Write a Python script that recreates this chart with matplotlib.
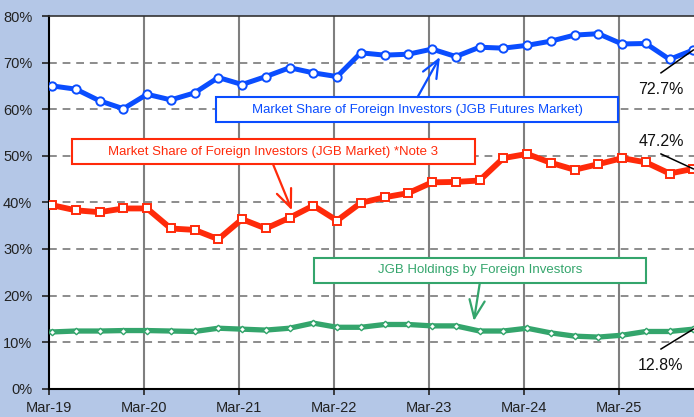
import numpy as np
import matplotlib.pyplot as plt
from matplotlib.patches import Rectangle

plt.rcParams['font.family'] = ['Liberation Sans', 'DejaVu Sans']

# quarterly, Mar-19 .. Dec-25
tick_labels = ['Mar-19', 'Mar-20', 'Mar-21', 'Mar-22', 'Mar-23', 'Mar-24', 'Mar-25']
futures = [65.0, 64.3, 61.8, 60.1, 63.2, 62.0, 63.5, 66.8, 65.3, 67.0, 68.9, 67.8, 67.0, 72.1,
           71.6, 71.8, 72.9, 71.3, 73.3, 73.1, 73.7, 74.6, 75.9, 76.2, 74.0, 74.1, 70.7, 72.7]
jgb_mkt = [39.4, 38.3, 37.9, 38.7, 38.7, 34.4, 34.1, 32.1, 36.4, 34.4, 36.7, 39.3, 36.1, 39.9,
           41.1, 42.0, 44.3, 44.4, 44.7, 49.5, 50.4, 48.5, 47.0, 48.2, 49.5, 48.6, 46.2, 47.2]
holdings = [12.2, 12.4, 12.4, 12.5, 12.5, 12.4, 12.3, 13.0, 12.8, 12.6, 13.0, 14.1, 13.2, 13.2,
            13.8, 13.8, 13.5, 13.5, 12.4, 12.4, 13.0, 12.0, 11.3, 11.1, 11.5, 12.3, 12.3, 12.8]
# month-end points sit slightly right of the year gridlines
x = np.arange(len(futures)) + 0.13

blue = '#0a4dff'
red = '#ff2a0a'
green = '#34a56c'
bg = '#b4c7e7'

fig = plt.figure(figsize=(6.94, 4.17), dpi=100, facecolor=bg)
ax = fig.add_axes([49/694, 1 - 388.8/417, 1 - 49/694, (388.8 - 16)/417])
ax.set_facecolor('white')

ax.set_xlim(0, 27.16)
ax.set_ylim(0, 80)
ax.set_yticks(np.arange(0, 81, 10))
ax.set_yticklabels([f'{v}%' for v in range(0, 81, 10)])
ax.set_xticks(np.arange(0, 28, 4))
ax.set_xticklabels(tick_labels)
ax.tick_params(axis='both', labelsize=10.5, colors='#222222', direction='out')
ax.tick_params(axis='y', length=5, width=1.2, pad=7)
ax.tick_params(axis='x', length=4, width=1.2, pad=5)

for v in range(10, 80, 10):
    ax.axhline(v, color='#8c8c8c', lw=1.4, ls=(0, (4, 3)), zorder=1)
for t in range(4, 28, 4):
    ax.axvline(t, color='#7f7f7f', lw=1.5, zorder=1)

ax.spines['right'].set_visible(False)
ax.spines['left'].set_linewidth(1.5)
ax.spines['bottom'].set_linewidth(1.5)
ax.spines['top'].set_linewidth(1.2)
ax.spines['top'].set_color('#333333')

ax.plot(x, futures, color=blue, lw=3.6, marker='o', ms=6, mfc='white', mec=blue, mew=1.4, zorder=4)
ax.plot(x, jgb_mkt, color=red, lw=4.2, marker='s', ms=5.5, mfc='white', mec=red, mew=1.4, zorder=4)
ax.plot(x, holdings, color=green, lw=3.8, marker='D', ms=3.3, mfc='white', mec=green, mew=1.0, zorder=4)

# label boxes
def label_box(x0, x1, y0, y1, tx, ty, text, col, start, end):
    ax.add_patch(Rectangle((x0, y0), x1 - x0, y1 - y0, fc='white', ec=col, lw=1.5, zorder=5))
    ax.text(tx, ty, text, color=col, fontsize=9.5, ha='center', va='center', zorder=6)
    ax.annotate('', xy=end, xytext=start,
                arrowprops=dict(arrowstyle='->,head_length=1.3,head_width=0.55', color=col, lw=1.6,
                                shrinkA=0, shrinkB=0),
                zorder=6)

label_box(7.04, 23.95, 57.25, 62.6, 15.52, 59.9,
          'Market Share of Foreign Investors (JGB Futures Market)', blue, (15.52, 62.6), (16.46, 71.2))
label_box(0.96, 17.93, 48.24, 53.6, 9.43, 50.9,
          'Market Share of Foreign Investors (JGB Market) *Note 3', red, (9.43, 48.24), (10.23, 38.3))
label_box(11.15, 25.13, 22.7, 28.07, 18.14, 25.5,
          'JGB Holdings by Foreign Investors', green, (18.14, 22.7), (17.89, 14.55))

# latest values
for txt, ty, ly, val in [('72.7%', 64.3, 67.8, futures[-1]),
                         ('47.2%', 52.97, 50.4, jgb_mkt[-1]),
                         ('12.8%', 4.9, 8.54, holdings[-1])]:
    ax.text(25.77, ty, txt, fontsize=11.5, ha='center', va='center', color='#111111', zorder=6)
    ax.plot([25.77, x[-1]], [ly, val], color='black', lw=1.1, zorder=5, clip_on=False)

fig.savefig('out.png', dpi=100, facecolor=bg)
